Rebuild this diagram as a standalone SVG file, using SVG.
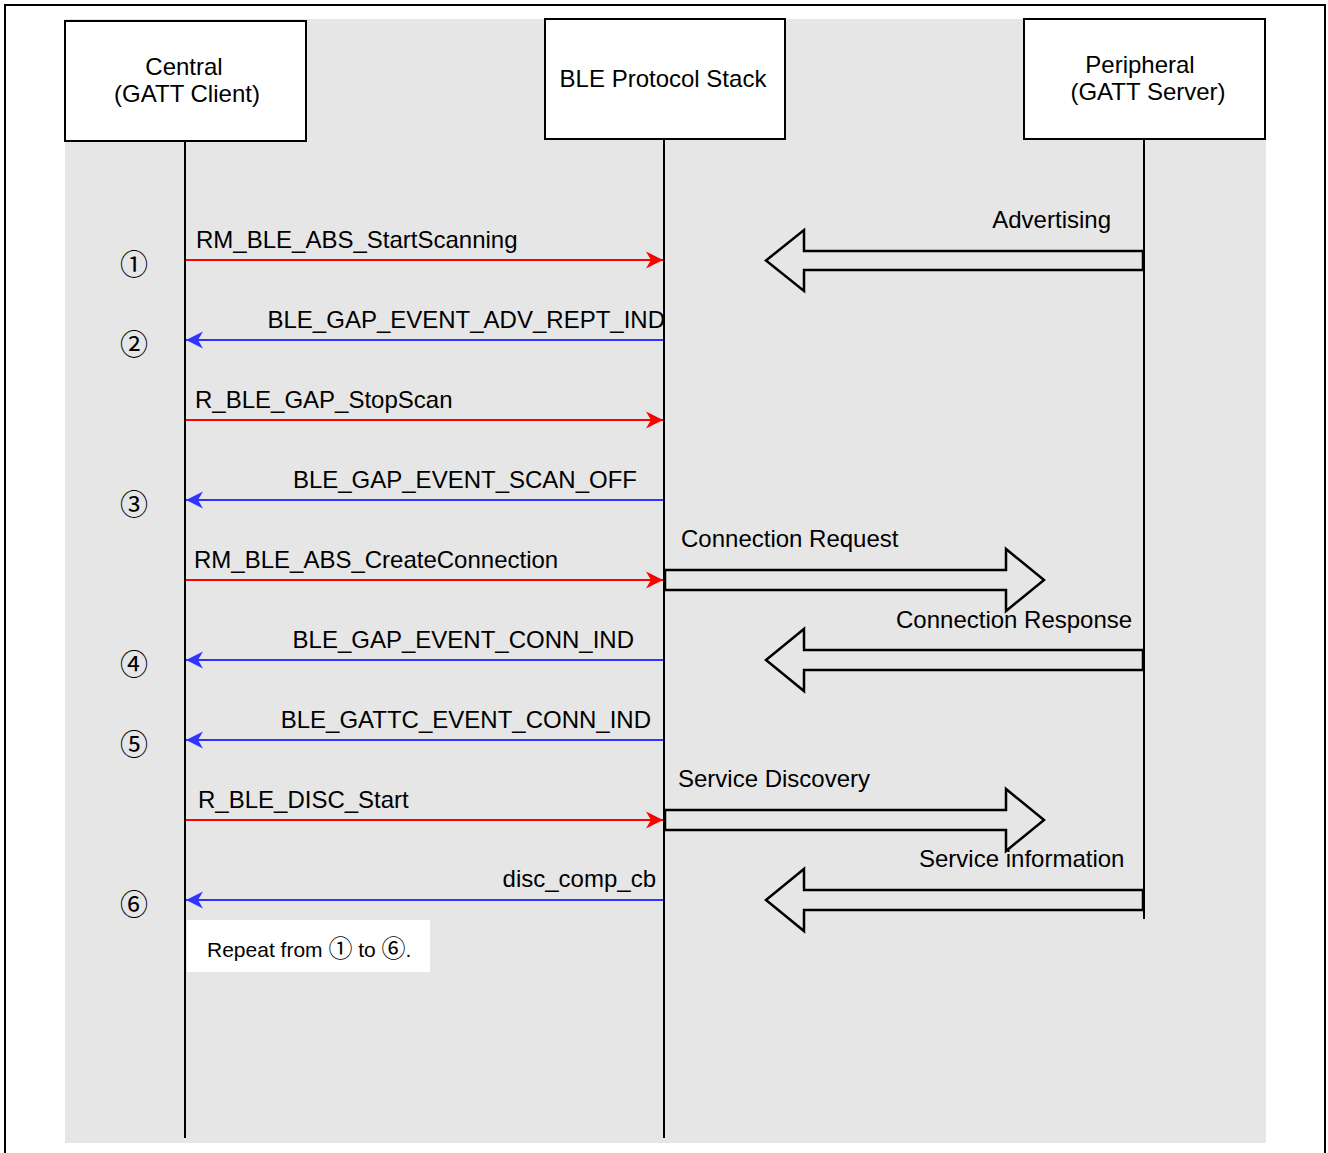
<svg xmlns="http://www.w3.org/2000/svg" width="1328" height="1153" viewBox="0 0 1328 1153">
<style>
text{font-family:"Liberation Sans",Arial,"Noto Sans CJK JP",sans-serif;font-size:24px;fill:#000}
.num{font-family:"Noto Sans CJK JP","Liberation Sans",sans-serif;font-size:28px;text-anchor:middle}
.box{fill:#fff;stroke:#000;stroke-width:2}
.life{stroke:#000;stroke-width:2;fill:none}
.req{stroke:#f00;stroke-width:2;fill:none;marker-end:url(#ar)}
.rsp{stroke:#33f;stroke-width:2;fill:none;marker-end:url(#ab)}
.big{fill:#e6e6e6;stroke:#000;stroke-width:2.5;stroke-linejoin:miter}
.c{text-anchor:middle}
.e{text-anchor:end}
</style>
<defs>
<marker id="ar" markerUnits="userSpaceOnUse" markerWidth="20" markerHeight="20" viewBox="-18 -10 20 20" refX="0" refY="0" orient="auto">
<path d="M0,0 L-17,-8.5 L-12,0 L-17,8.5 Z" fill="#f00"/>
</marker>
<marker id="ab" markerUnits="userSpaceOnUse" markerWidth="20" markerHeight="20" viewBox="-18 -10 20 20" refX="0" refY="0" orient="auto">
<path d="M0,0 L-17,-8.5 L-12,0 L-17,8.5 Z" fill="#33f"/>
</marker>
</defs>
<rect x="0" y="0" width="1328" height="1153" fill="#fff"/>
<rect x="5" y="5" width="1320" height="1170" fill="none" stroke="#000" stroke-width="2"/>
<rect x="65" y="19" width="1201" height="1124" fill="#e6e6e6"/>

<g id="central">
<rect class="box" x="65" y="21" width="241" height="120"/>
<text class="c" x="184" y="75">Central</text>
<text class="c" x="187" y="102">(GATT Client)</text>
</g>
<g id="stack">
<rect class="box" x="545" y="19" width="240" height="120"/>
<text class="c" x="663" y="87">BLE Protocol Stack</text>
</g>
<g id="peripheral">
<rect class="box" x="1024" y="19" width="241" height="120"/>
<text class="c" x="1140" y="73">Peripheral</text>
<text class="c" x="1148" y="100">(GATT Server)</text>
</g>

<g id="lifelines">
<line class="life" x1="185" y1="141" x2="185" y2="1138"/>
<line class="life" x1="664" y1="139" x2="664" y2="1138"/>
<line class="life" x1="1144" y1="139" x2="1144" y2="919"/>
</g>

<g id="connectors">
<line class="req" x1="186" y1="260" x2="663" y2="260"/>
<line class="rsp" x1="663" y1="340" x2="186" y2="340"/>
<line class="req" x1="186" y1="420" x2="663" y2="420"/>
<line class="rsp" x1="663" y1="500" x2="186" y2="500"/>
<line class="req" x1="186" y1="580" x2="663" y2="580"/>
<line class="rsp" x1="663" y1="660" x2="186" y2="660"/>
<line class="rsp" x1="663" y1="740" x2="186" y2="740"/>
<line class="req" x1="186" y1="820" x2="663" y2="820"/>
<line class="rsp" x1="663" y1="900" x2="186" y2="900"/>

<polygon class="big" points="1143,251 804,251 804,230 766,260.5 804,291 804,270 1143,270"/>
<polygon class="big" points="665,570 1006,570 1006,549 1044,580 1006,611 1006,590 665,590"/>
<polygon class="big" points="1143,650 804,650 804,629 766,660 804,691 804,670 1143,670"/>
<polygon class="big" points="665,810 1006,810 1006,789 1044,820 1006,851 1006,830 665,830"/>
<polygon class="big" points="1143,890 804,890 804,869 766,900 804,931 804,910 1143,910"/>
</g>

<g id="labels">
<text x="196" y="248">RM_BLE_ABS_StartScanning</text>
<text class="e" x="665" y="328">BLE_GAP_EVENT_ADV_REPT_IND</text>
<text x="195" y="408">R_BLE_GAP_StopScan</text>
<text class="e" x="637" y="488">BLE_GAP_EVENT_SCAN_OFF</text>
<text x="194" y="568">RM_BLE_ABS_CreateConnection</text>
<text class="e" x="634" y="648">BLE_GAP_EVENT_CONN_IND</text>
<text class="e" x="651" y="728">BLE_GATTC_EVENT_CONN_IND</text>
<text x="198" y="808">R_BLE_DISC_Start</text>
<text class="e" x="656" y="887">disc_comp_cb</text>
<text class="e" x="1111" y="228">Advertising</text>
<text x="681" y="547">Connection Request</text>
<text x="896" y="628">Connection Response</text>
<text x="678" y="787">Service Discovery</text>
<text x="919" y="867">Service information</text>
</g>

<g id="steps">
<text class="num" x="134" y="275">①</text>
<text class="num" x="134" y="355">②</text>
<text class="num" x="134" y="515">③</text>
<text class="num" x="134" y="675">④</text>
<text class="num" x="134" y="755">⑤</text>
<text class="num" x="134" y="915">⑥</text>
</g>

<g id="repeat">
<rect x="187" y="920" width="243" height="52" fill="#fff"/>
<text x="207" y="957" style="font-size:21px">Repeat from <tspan style="font-size:24px">①</tspan> to <tspan style="font-size:24px">⑥</tspan>.</text>
</g>
</svg>
